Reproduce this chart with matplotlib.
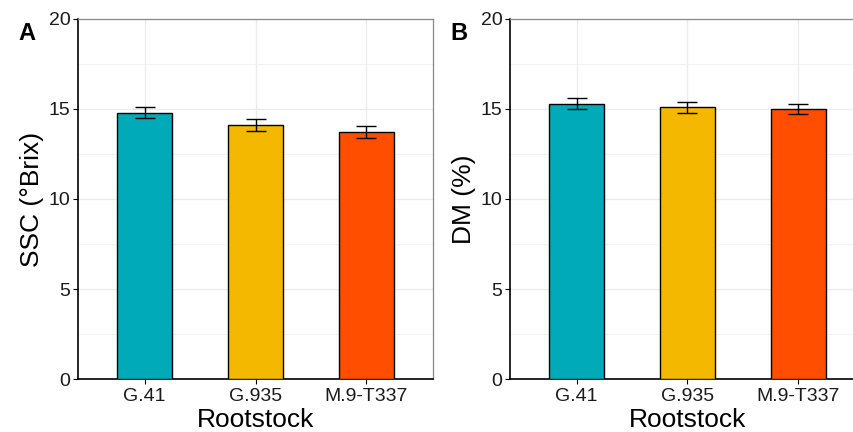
import matplotlib.pyplot as plt
import numpy as np

plt.rcParams['font.family'] = ['Liberation Sans', 'DejaVu Sans']

rootstocks = ['G.41', 'G.935', 'M.9-T337']
ssc_mean = [14.8, 14.1, 13.7]
ssc_se = [0.32, 0.32, 0.33]
dm_mean = [15.3, 15.1, 15.0]
dm_se = [0.30, 0.30, 0.30]
colors = ['#00AAB8', '#F5B800', '#FF4E00']

W, H = 854, 432
fig = plt.figure(figsize=(W / 100, H / 100), dpi=100)


def panel(left_px, means, errs, ylabel, letter):
    ax = fig.add_axes([left_px / W, (H - 379) / H, 355 / W, 360 / H])
    x = np.arange(len(rootstocks))
    ax.bar(x, means, width=0.5, color=colors, edgecolor='black', linewidth=1.0, zorder=3)
    ax.errorbar(x, means, yerr=errs, fmt='none', ecolor='black', elinewidth=1.0,
                capsize=7, capthick=1.0, zorder=4)
    ax.set_xlim(-0.6, 2.6)
    ax.set_ylim(0, 20)
    ax.set_yticks([0, 5, 10, 15, 20])
    ax.set_yticks([2.5, 7.5, 12.5, 17.5], minor=True)
    ax.set_xticks(x)
    ax.set_xticklabels(rootstocks)
    ax.grid(True, which='major', color='#EBEBEB', linewidth=1.0, zorder=0)
    ax.grid(True, which='minor', axis='y', color='#F2F2F2', linewidth=0.7, zorder=0)
    ax.tick_params(axis='both', which='major', labelsize=14, length=3.5, width=0.8,
                   colors='black', labelcolor='#1a1a1a', pad=2)
    ax.tick_params(axis='x', which='major', pad=3)
    ax.tick_params(axis='y', which='minor', length=0)
    for s in ['top', 'right']:
        ax.spines[s].set_color('#888888')
        ax.spines[s].set_linewidth(0.9)
    for s in ['left', 'bottom']:
        ax.spines[s].set_color('black')
        ax.spines[s].set_linewidth(1.2)
    ax.set_ylabel(ylabel, fontsize=19, labelpad=3)
    ax.set_xlabel('Rootstock', fontsize=19, labelpad=2)
    fig.text((left_px - 60) / W, (H - 33) / H, letter, fontsize=17, fontweight='bold',
             ha='left', va='center')
    return ax


panel(78, ssc_mean, ssc_se, 'SSC (°Brix)', 'A')
panel(510, dm_mean, dm_se, 'DM (%)', 'B')

fig.savefig('out.png', dpi=100)
